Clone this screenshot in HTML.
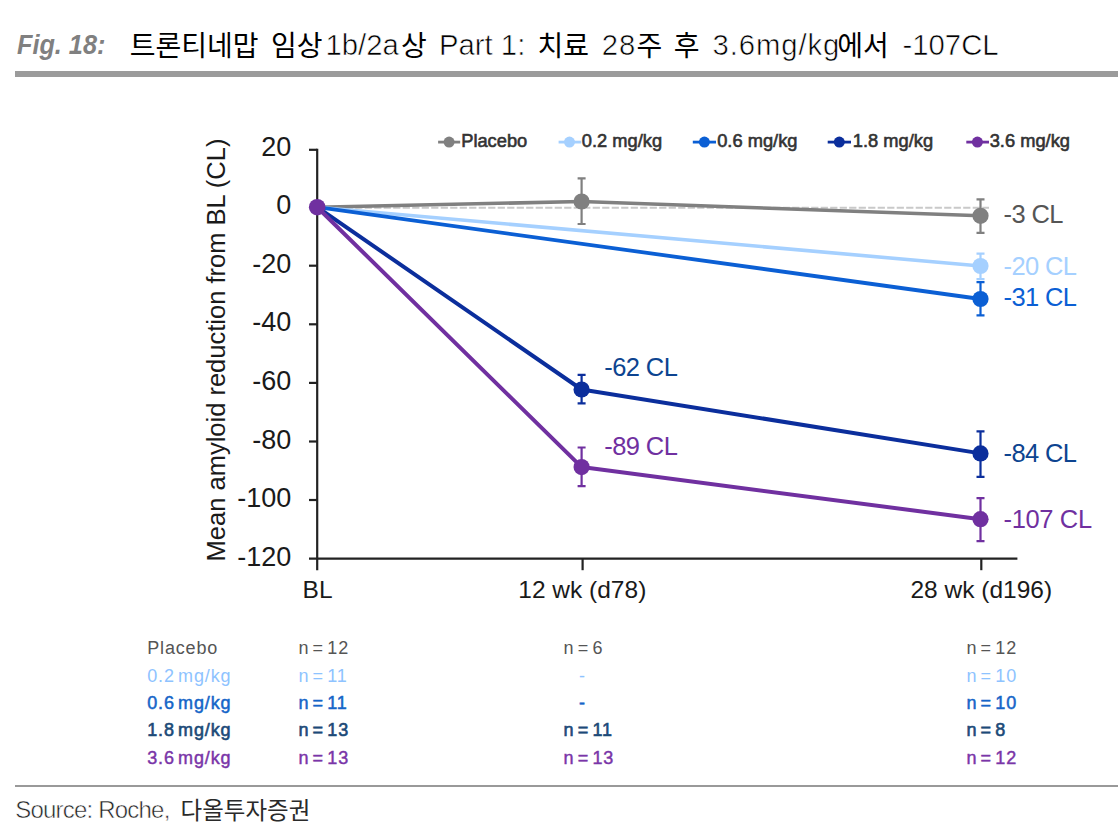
<!DOCTYPE html>
<html lang="en"><head><meta charset="utf-8"><title>Fig. 18</title>
<style>
html,body{margin:0;padding:0;background:#fff}
body{width:1118px;height:833px;position:relative;overflow:hidden;font-family:"Liberation Sans",sans-serif;color:#000}
.t{position:absolute;white-space:nowrap;line-height:1;font-family:"Liberation Sans",sans-serif}
.fig{left:17.2px;top:31px;font-size:27.9px;font-weight:bold;font-style:italic;color:#808080;transform:scaleX(0.905);transform-origin:0 0}
.tt{font-size:29.3px;color:#000;top:30px;-webkit-text-stroke:0.6px #fff}
.bar{position:absolute;left:15px;top:71px;width:1103px;height:6px;background:#9b9b9b}
.rule{position:absolute;left:15px;top:785px;width:1103px;height:2px;background:#999}
.yl{font-size:27px;color:#1a1a1a}
.xl{font-size:24.5px;color:#1a1a1a;text-align:center}
.dl{font-size:25.5px;letter-spacing:-0.6px}
.lg{font-size:18.3px;color:#333;-webkit-text-stroke:0.6px #333}
.tb{font-size:18px;letter-spacing:0.85px;word-spacing:-2.5px}
.ylab{font-size:25.5px;color:#1a1a1a;left:217px;top:350px;transform:translate(-50%,-50%) rotate(-90deg);transform-origin:50% 50%}
.src{font-size:24px;color:#222;left:15.3px;top:797.9px;letter-spacing:-0.8px;-webkit-text-stroke:0.55px #fff}
svg{position:absolute;left:0;top:0}
</style></head><body>
<div class="t fig">Fig. 18:</div>
<div class="t tt" style="left:325.5px">1b/2a</div>
<div class="t tt" style="left:439px">Part 1:</div>
<div class="t tt" style="left:601.8px;letter-spacing:0.8px">28</div>
<div class="t tt" style="left:712.5px;letter-spacing:0.9px">3.6mg/kg</div>
<div class="t tt" style="left:902.5px">-107CL</div>
<div class="bar"></div>
<svg width="1118" height="833" viewBox="0 0 1118 833" role="img" aria-label="트론티네맙 임상1b/2a상 Part 1: 치료 28주 후 3.6mg/kg에서 -107CL / 다올투자증권">
<g fill="#000" font-family="&quot;Liberation Sans&quot;, &quot;Noto Sans CJK KR&quot;, sans-serif" font-size="28">
<text x="129.7" y="56.1">트론티네맙</text>
<text x="270.9" y="56.1">임상</text>
<text x="401" y="56.1">상</text>
<text x="537.5" y="56.1">치료</text>
<text x="636.6" y="56.1">주</text>
<text x="673.7" y="56.1">후</text>
<text x="837.2" y="56.1">에서</text>
</g>
<g fill="#2a2a2a" font-family="&quot;Liberation Sans&quot;, &quot;Noto Sans CJK KR&quot;, sans-serif" font-size="23.5">
<text x="180.6" y="818.8">다올투자증권</text>
</g>
<g stroke="#222" stroke-width="2.2" fill="none"><path d="M317.2 148.7V570.3"/><path d="M309 558.6H1017.4"/><path d="M309 207.2H317.2"/><path d="M309 265.7H317.2"/><path d="M309 324.3H317.2"/><path d="M309 382.9H317.2"/><path d="M309 441.5H317.2"/><path d="M309 500.0H317.2"/><path d="M309 149.8H317.2"/><path d="M582.6 558.6V570.2"/><path d="M981.3 558.6V570.2"/></g>
<path d="M317.2 207.8H989" stroke="#c9c9c9" stroke-width="2" stroke-dasharray="7.2 2.3" fill="none"/>
<polyline fill="none" stroke="#808080" stroke-width="3.6" stroke-linejoin="round" points="317.2,207.2 581.6,201.5 980.5,215.8"/>
<polyline fill="none" stroke="#a5d0ff" stroke-width="3.6" stroke-linejoin="round" points="317.2,207.2 980.5,266.0"/>
<polyline fill="none" stroke="#0b5fd4" stroke-width="3.8" stroke-linejoin="round" points="317.2,207.2 980.5,299.0"/>
<polyline fill="none" stroke="#0b2e9c" stroke-width="4" stroke-linejoin="round" points="317.2,207.2 581.6,389.5 980.5,453.4"/>
<polyline fill="none" stroke="#7030a0" stroke-width="4" stroke-linejoin="round" points="317.2,207.2 581.6,467.1 980.5,519.2"/>
<path d="M581.6 178.3V224.0M577.6 178.3H585.6M577.6 224.0H585.6" stroke="#808080" stroke-width="2.2" fill="none"/>
<path d="M980.5 199.3V232.9M976.5 199.3H984.5M976.5 232.9H984.5" stroke="#808080" stroke-width="2.2" fill="none"/>
<path d="M980.5 253.6V279.2M976.5 253.6H984.5M976.5 279.2H984.5" stroke="#a5d0ff" stroke-width="2.2" fill="none"/>
<path d="M980.5 282.2V315.3M976.5 282.2H984.5M976.5 315.3H984.5" stroke="#0b5fd4" stroke-width="2.2" fill="none"/>
<path d="M581.6 374.9V403.4M577.6 374.9H585.6M577.6 403.4H585.6" stroke="#0b2e9c" stroke-width="2.2" fill="none"/>
<path d="M980.5 431.3V476.9M976.5 431.3H984.5M976.5 476.9H984.5" stroke="#0b2e9c" stroke-width="2.2" fill="none"/>
<path d="M581.6 447.5V486.1M577.6 447.5H585.6M577.6 486.1H585.6" stroke="#7030a0" stroke-width="2.2" fill="none"/>
<path d="M980.5 498.2V541.1M976.5 498.2H984.5M976.5 541.1H984.5" stroke="#7030a0" stroke-width="2.2" fill="none"/>
<circle cx="581.6" cy="201.5" r="8.1" fill="#808080"/>
<circle cx="980.5" cy="215.8" r="8.1" fill="#808080"/>
<circle cx="980.5" cy="266.0" r="8.1" fill="#a5d0ff"/>
<circle cx="980.5" cy="299.0" r="8.1" fill="#0b5fd4"/>
<circle cx="581.6" cy="389.5" r="8.1" fill="#0b2e9c"/>
<circle cx="980.5" cy="453.4" r="8.1" fill="#0b2e9c"/>
<circle cx="581.6" cy="467.1" r="8.1" fill="#7030a0"/>
<circle cx="980.5" cy="519.2" r="8.1" fill="#7030a0"/>
<circle cx="317.2" cy="207.2" r="8.3" fill="#7030a0"/>
<path d="M438.1 142.1H460.2" stroke="#808080" stroke-width="2.8"/><circle cx="449.1" cy="142.1" r="5.5" fill="#808080"/>
<path d="M558.6 142.1H581.2" stroke="#a5d0ff" stroke-width="2.8"/><circle cx="569.5" cy="142.1" r="5.5" fill="#a5d0ff"/>
<path d="M692.8 142.1H716" stroke="#0b5fd4" stroke-width="2.8"/><circle cx="704.4" cy="142.1" r="5.5" fill="#0b5fd4"/>
<path d="M827.7 142.1H851" stroke="#0b2e9c" stroke-width="2.8"/><circle cx="839.3" cy="142.1" r="5.5" fill="#0b2e9c"/>
<path d="M966.3 142.1H989" stroke="#7030a0" stroke-width="2.8"/><circle cx="977.4" cy="142.1" r="5.5" fill="#7030a0"/>
</svg>
<div class="t ylab">Mean amyloid reduction from BL (CL)</div>
<div class="t yl" style="right:826.8px;top:133.6px">20</div>
<div class="t yl" style="right:826.8px;top:192.2px">0</div>
<div class="t yl" style="right:826.8px;top:250.7px">-20</div>
<div class="t yl" style="right:826.8px;top:309.3px">-40</div>
<div class="t yl" style="right:826.8px;top:367.9px">-60</div>
<div class="t yl" style="right:826.8px;top:426.5px">-80</div>
<div class="t yl" style="right:826.8px;top:485.0px">-100</div>
<div class="t yl" style="right:826.8px;top:543.6px">-120</div>
<div class="t xl" style="left:217.60000000000002px;top:578px;width:200px">BL</div>
<div class="t xl" style="left:482.29999999999995px;top:578px;width:200px">12 wk (d78)</div>
<div class="t xl" style="left:881.3px;top:578px;width:200px">28 wk (d196)</div>
<div class="t dl" style="left:1003.5px;top:202.2px;color:#555">-3 CL</div>
<div class="t dl" style="left:1003.5px;top:254.3px;color:#a5d0ff">-20 CL</div>
<div class="t dl" style="left:1003.5px;top:285.2px;color:#0b5fd4">-31 CL</div>
<div class="t dl" style="left:1003.5px;top:441.3px;color:#0d4490">-84 CL</div>
<div class="t dl" style="left:1003.5px;top:507px;color:#7030a0;letter-spacing:-0.35px">-107 CL</div>
<div class="t dl" style="left:604.3px;top:355.4px;color:#0d4490">-62 CL</div>
<div class="t dl" style="left:604.3px;top:433.8px;color:#7030a0">-89 CL</div>
<div class="t lg" style="left:461.2px;top:131.7px;">Placebo</div>
<div class="t lg" style="left:581.8px;top:131.7px;">0.2 mg/kg</div>
<div class="t lg" style="left:717.2px;top:131.7px;">0.6 mg/kg</div>
<div class="t lg" style="left:852.8px;top:131.7px;">1.8 mg/kg</div>
<div class="t lg" style="left:989.7px;top:131.7px;">3.6 mg/kg</div>
<div class="t tb" style="left:147.2px;top:639.2px;color:#555;">Placebo</div>
<div class="t tb" style="left:298.4px;top:639.2px;color:#555;">n = 12</div>
<div class="t tb" style="left:563.5px;top:639.2px;color:#555;">n = 6</div>
<div class="t tb" style="left:966.4px;top:639.2px;color:#555;">n = 12</div>
<div class="t tb" style="left:147.2px;top:666.6px;color:#8ec3ff;">0.2 mg/kg</div>
<div class="t tb" style="left:298.4px;top:666.6px;color:#8ec3ff;">n = 11</div>
<div class="t tb" style="left:579.0px;top:666.6px;color:#8ec3ff;">-</div>
<div class="t tb" style="left:966.4px;top:666.6px;color:#8ec3ff;">n = 10</div>
<div class="t tb" style="left:147.2px;top:694.0px;color:#1565c8;-webkit-text-stroke-width:0.5px;">0.6 mg/kg</div>
<div class="t tb" style="left:298.4px;top:694.0px;color:#1565c8;-webkit-text-stroke-width:0.5px;">n = 11</div>
<div class="t tb" style="left:579.0px;top:694.0px;color:#1565c8;-webkit-text-stroke-width:0.5px;">-</div>
<div class="t tb" style="left:966.4px;top:694.0px;color:#1565c8;-webkit-text-stroke-width:0.5px;">n = 10</div>
<div class="t tb" style="left:147.2px;top:721.4px;color:#1c4a78;-webkit-text-stroke-width:0.6px;">1.8 mg/kg</div>
<div class="t tb" style="left:298.4px;top:721.4px;color:#1c4a78;-webkit-text-stroke-width:0.6px;">n = 13</div>
<div class="t tb" style="left:563.5px;top:721.4px;color:#1c4a78;-webkit-text-stroke-width:0.6px;">n = 11</div>
<div class="t tb" style="left:966.4px;top:721.4px;color:#1c4a78;-webkit-text-stroke-width:0.6px;">n = 8</div>
<div class="t tb" style="left:147.2px;top:748.8px;color:#7a35a8;-webkit-text-stroke-width:0.45px;">3.6 mg/kg</div>
<div class="t tb" style="left:298.4px;top:748.8px;color:#7a35a8;-webkit-text-stroke-width:0.45px;">n = 13</div>
<div class="t tb" style="left:563.5px;top:748.8px;color:#7a35a8;-webkit-text-stroke-width:0.45px;">n = 13</div>
<div class="t tb" style="left:966.4px;top:748.8px;color:#7a35a8;-webkit-text-stroke-width:0.45px;">n = 12</div>
<div class="rule"></div>
<div class="t src">Source: Roche,</div>
</body></html>
